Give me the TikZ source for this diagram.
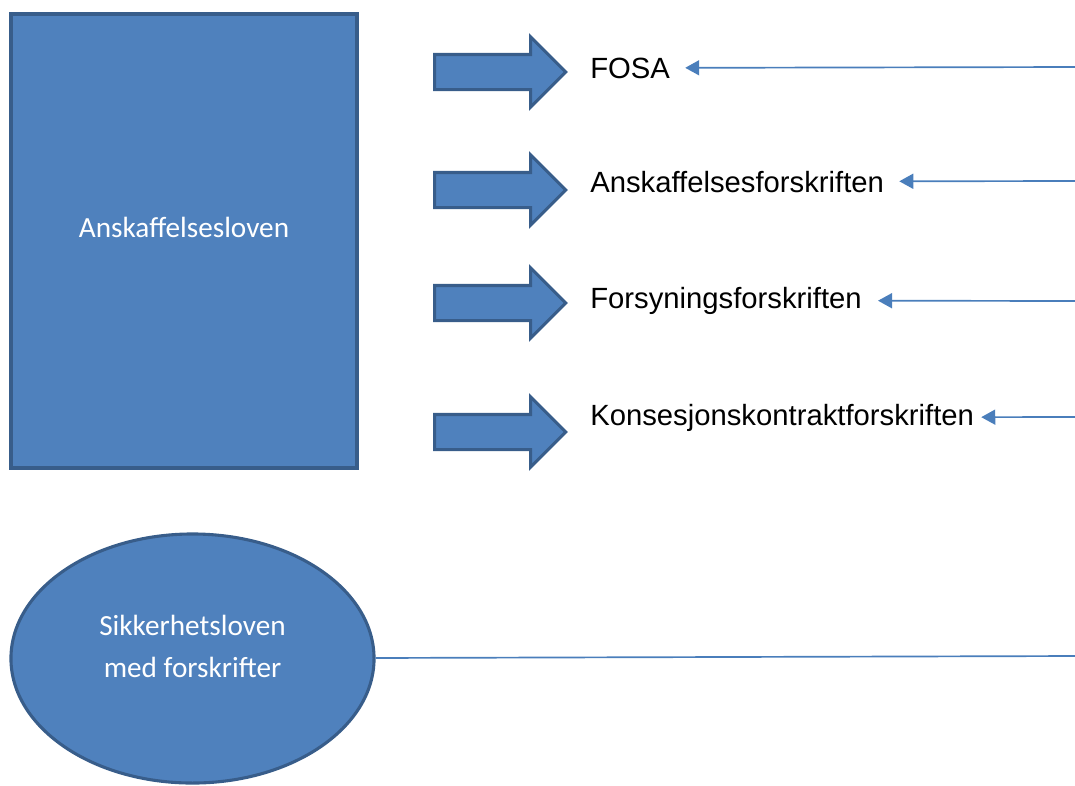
\documentclass[tikz,border=0pt]{standalone}
\usepackage{fontspec}
\setmainfont{Liberation Sans}
\newfontfamily\calibri{Carlito}
\usetikzlibrary{shapes.geometric,shapes.arrows,arrows.meta}
\definecolor{boxblue}{HTML}{4F81BD}
\definecolor{boxedge}{HTML}{385D8A}
\definecolor{linkblue}{HTML}{4A7EBB}

\begin{document}
\begin{tikzpicture}[x=0.025cm,y=-0.025cm,
    lawbox/.style={draw=boxedge,fill=boxblue,text=white,align=center,
                   font=\calibri\fontsize{20.8}{30}\selectfont},
    bigarrow/.style={single arrow,draw=boxedge,fill=boxblue,line width=2.2pt,
                     minimum height=3.28cm,inner sep=0.4cm,
                     single arrow head extend=0.44cm,anchor=tail},
    rule/.style={anchor=base west,inner sep=0pt,font=\fontsize{20.8}{25}\selectfont},
    link/.style={draw=linkblue,line width=1.2pt},
    linkarrow/.style={link,-{Triangle[length=0.35cm,width=0.375cm]}}]

    \useasboundingbox (0,0) rectangle (1075,785);

    % Nodes
    \node (lov) [lawbox,rectangle,line width=3pt,minimum width=8.65cm,
                 minimum height=11.35cm,text depth=0.68cm] at (184,241) {Anskaffelsesloven};
    \node (sikk) [lawbox,ellipse,line width=2.2pt,minimum width=9.075cm,
                  minimum height=6.225cm,text depth=0.6cm] at (192.5,658.5)
                 {Sikkerhetsloven\\med forskrifter};

    \node (a1) [bigarrow] at (433,72) {};
    \node (a2) [bigarrow] at (433,190) {};
    \node (a3) [bigarrow] at (433,303) {};
    \node (a4) [bigarrow] at (433,432) {};

    \node (fosa) [rule] at (590,78) {FOSA};
    \node (afor) [rule] at (590,192) {Anskaffelsesforskriften};
    \node (ffor) [rule] at (590,308) {Forsyningsforskriften};
    \node (kfor) [rule] at (590,425) {Konsesjonskontraktforskriften};

    \coordinate (r1) at (1075,67);
    \coordinate (r2) at (1075,181);
    \coordinate (r3) at (1075,301);
    \coordinate (r4) at (1075,417);
    \coordinate (r5) at (1075,656);

    % Arrows
    \draw[linkarrow,shorten >=0.375cm] (r1) -- (fosa);
    \draw[linkarrow,shorten >=0.375cm] (r2) -- (afor);
    \draw[linkarrow,shorten >=0.4cm] (r3) -- (ffor);
    \draw[linkarrow,shorten >=0.175cm] (r4) -- (kfor);
    \draw[link] (sikk) -- (r5);

\end{tikzpicture}
\end{document}
